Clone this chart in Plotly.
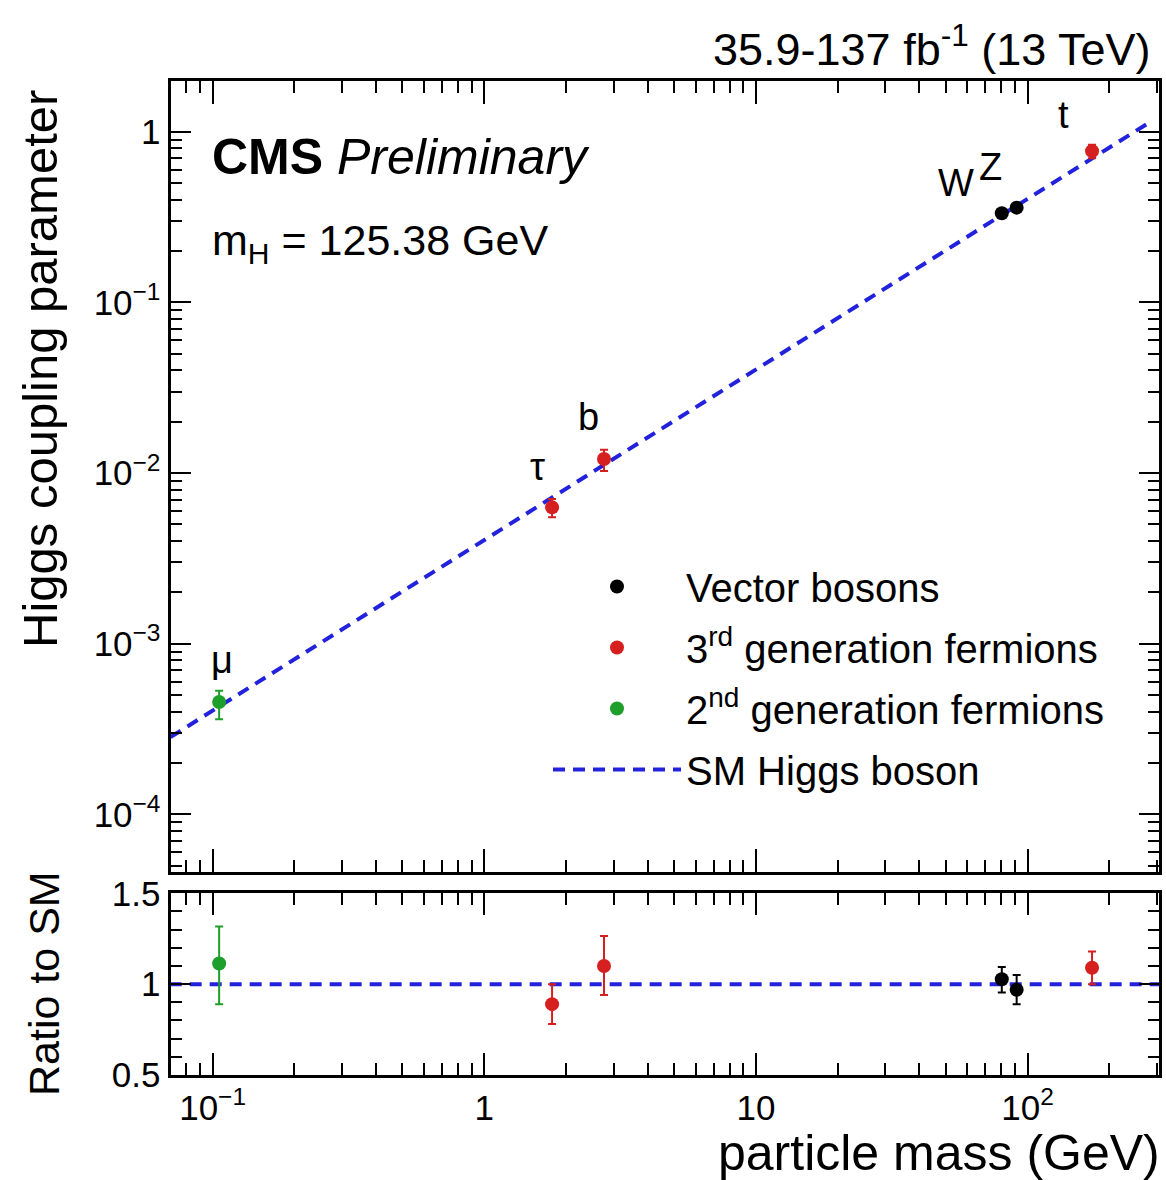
import math
import plotly.graph_objects as go

# ---------------- data ----------------
particles = ["μ", "τ", "b", "W", "Z", "t"]
mass = [0.1057, 1.777, 2.76, 80.4, 91.19, 172.8]
coupling = [4.56e-4, 6.30e-3, 0.0121, 0.333, 0.359, 0.770]
coupling_err_up = [0.75e-4, 0.75e-3, 0.0016, 0.011, 0.014, 0.07]
coupling_err_down = [0.95e-4, 0.79e-3, 0.0018, 0.012, 0.014, 0.07]
ratio = [1.114, 0.89, 1.10, 1.027, 0.969, 1.09]
ratio_err_up = [0.203, 0.11, 0.165, 0.068, 0.081, 0.09]
ratio_err_down = [0.224, 0.11, 0.16, 0.073, 0.079, 0.09]
group = ["2nd", "3rd", "3rd", "V", "V", "3rd"]

sm_mass = [0.07, 280.0]
sm_coupling = [2.84e-4, 1.13]
sm_ratio_mass = [0.0695, 305.0]
sm_ratio = [1.0, 1.0]

groups = ["V", "3rd", "2nd"]
group_names = {"V": "Vector bosons",
               "3rd": "3<sup>rd</sup> generation fermions",
               "2nd": "2<sup>nd</sup> generation fermions"}
group_colors = {"V": "#000000", "3rd": "#d61f1f", "2nd": "#1e9e2a"}
group_rank = {"V": 1, "3rd": 2, "2nd": 3}
sm_color = "#2222dd"

label_shift = {"μ": (3, 42), "τ": (-15, 40), "b": (-16, 42),
               "W": (-46, 30), "Z": (-26, 41), "t": (-29, 36)}

FONT = "Liberation Sans, Arial, Helvetica, sans-serif"
W, H = 1166, 1180

fig = go.Figure()

# SM lines first (drawn underneath)
fig.add_trace(go.Scatter(x=sm_mass, y=sm_coupling, mode="lines", name="SM Higgs boson",
                         legendgroup="sm", legendrank=4,
                         line=dict(color=sm_color, width=4, dash="12px,8px"),
                         xaxis="x", yaxis="y"))
fig.add_trace(go.Scatter(x=sm_ratio_mass, y=sm_ratio, mode="lines", showlegend=False,
                         line=dict(color=sm_color, width=4, dash="12px,8px"),
                         xaxis="x2", yaxis="y2"))

for g in groups:
    idx = [i for i, gg in enumerate(group) if gg == g]
    col = group_colors[g]
    fig.add_trace(go.Scatter(
        x=[mass[i] for i in idx], y=[coupling[i] for i in idx],
        mode="markers", name=group_names[g], legendgroup=g, legendrank=group_rank[g],
        marker=dict(color=col, size=14, symbol="circle"),
        error_y=dict(type="data", symmetric=False,
                     array=[coupling_err_up[i] for i in idx],
                     arrayminus=[coupling_err_down[i] for i in idx],
                     color=col, thickness=2, width=4),
        xaxis="x", yaxis="y"))
    fig.add_trace(go.Scatter(
        x=[mass[i] for i in idx], y=[ratio[i] for i in idx],
        mode="markers", name=group_names[g], legendgroup=g, showlegend=False,
        marker=dict(color=col, size=14, symbol="circle"),
        error_y=dict(type="data", symmetric=False,
                     array=[ratio_err_up[i] for i in idx],
                     arrayminus=[ratio_err_down[i] for i in idx],
                     color=col, thickness=2, width=4),
        xaxis="x2", yaxis="y2"))

# ---------------- ticks ----------------
xmajor = [0.1, 1, 10, 100]
xmajor_text = ["10<sup>−1</sup>", "1", "10", "10<sup>2</sup>"]
xminor = [m * 10 ** e for e in range(-2, 3) for m in range(2, 10)]
ymajor = [1e-4, 1e-3, 1e-2, 1e-1, 1]
ymajor_text = ["10<sup>−4</sup>", "10<sup>−3</sup>", "10<sup>−2</sup>", "10<sup>−1</sup>", "1"]
yminor = [m * 10 ** e for e in range(-5, 1) for m in range(2, 10)]

xdom = [170.5 / W, 1159 / W]
ydom_top = [(H - 872.3) / H, (H - 80.7) / H]
ydom_bot = [(H - 1075) / H, (H - 893.3) / H]

xrange_log = [-1.155, 2.484]

common = dict(showline=True, linecolor="black", linewidth=3, mirror="allticks",
              ticks="inside", tickcolor="black", tickwidth=2, showgrid=False, zeroline=False,
              automargin=False,
              tickfont=dict(family=FONT, size=35, color="black"))

minor_common = dict(ticks="inside", tickcolor="black", tickwidth=2)

fig.update_layout(
    width=W, height=H, margin=dict(l=0, r=0, t=0, b=0, pad=0, autoexpand=False),
    paper_bgcolor="white", plot_bgcolor="white",
    font=dict(family=FONT, color="black"),
    xaxis=dict(type="log", range=xrange_log, domain=xdom, anchor="y",
               tickmode="array", tickvals=xmajor, ticktext=xmajor_text, ticklen=23,
               showticklabels=False,
               minor=dict(tickmode="array", tickvals=xminor, ticklen=12, **minor_common),
               **common),
    yaxis=dict(type="log", range=[-4.339, 0.299], domain=ydom_top, anchor="x",
               tickmode="array", tickvals=ymajor, ticktext=ymajor_text, ticklen=20,
               minor=dict(tickmode="array", tickvals=yminor, ticklen=11, **minor_common),
               **common),
    xaxis2=dict(type="log", range=xrange_log, domain=xdom, anchor="y2", matches="x",
                tickmode="array", tickvals=xmajor, ticktext=xmajor_text, ticklen=22,
                minor=dict(tickmode="array", tickvals=xminor, ticklen=12, **minor_common),
                **common),
    yaxis2=dict(range=[0.5, 1.5], domain=ydom_bot, anchor="x2",
                tickmode="array", tickvals=[0.5, 1, 1.5], ticktext=["0.5", "1", "1.5"], ticklen=20,
                minor=dict(tickmode="array", tickvals=[0.6, 0.7, 0.8, 0.9, 1.1, 1.2, 1.3, 1.4],
                           ticklen=11, **minor_common),
                **common),
    legend=dict(x=548 / W, y=(H - 554) / H, xanchor="left", yanchor="top",
                bgcolor="rgba(0,0,0,0)", font=dict(family=FONT, size=40, color="black"),
                tracegroupgap=6, itemwidth=128, traceorder="grouped"),
    showlegend=True,
)

ann = []
# axis titles
ann.append(dict(text="Higgs coupling parameter", x=40 / W, y=(H - 88) / H, xref="paper", yref="paper",
                textangle=-90, xanchor="center", yanchor="top", showarrow=False,
                font=dict(family=FONT, size=49, color="black")))
ann.append(dict(text="Ratio to SM", x=44 / W, y=(H - 984) / H, xref="paper", yref="paper",
                textangle=-90, xanchor="center", yanchor="middle", showarrow=False,
                font=dict(family=FONT, size=43, color="black")))
ann.append(dict(text="particle mass (GeV)", x=1162 / W, y=(H - 1183) / H, xref="paper", yref="paper",
                xanchor="right", yanchor="bottom", showarrow=False,
                font=dict(family=FONT, size=50, color="black")))
ann.append(dict(text="35.9-137 fb<sup>-1</sup> (13 TeV)", x=1152 / W, y=(H - 46) / H,
                xref="paper", yref="paper", xanchor="right", yanchor="middle", showarrow=False,
                font=dict(family=FONT, size=45, color="black")))
ann.append(dict(text="<b>CMS</b> <i>Preliminary</i>", x=210 / W, y=(H - 157) / H,
                xref="paper", yref="paper", xanchor="left", yanchor="middle", showarrow=False,
                font=dict(family=FONT, size=50, color="black")))
ann.append(dict(text="m<sub>H</sub> = 125.38 GeV", x=210 / W, y=(H - 243) / H,
                xref="paper", yref="paper", xanchor="left", yanchor="middle", showarrow=False,
                font=dict(family=FONT, size=43, color="black")))
# particle labels
for p, m, c in zip(particles, mass, coupling):
    dx, dy = label_shift[p]
    ann.append(dict(text=p, x=math.log10(m), y=math.log10(c), xref="x", yref="y",
                    xshift=dx, yshift=dy, showarrow=False, xanchor="center", yanchor="middle",
                    font=dict(family=FONT, size=38, color="black")))
fig.update_layout(annotations=ann)

fig.write_html("out.html")
